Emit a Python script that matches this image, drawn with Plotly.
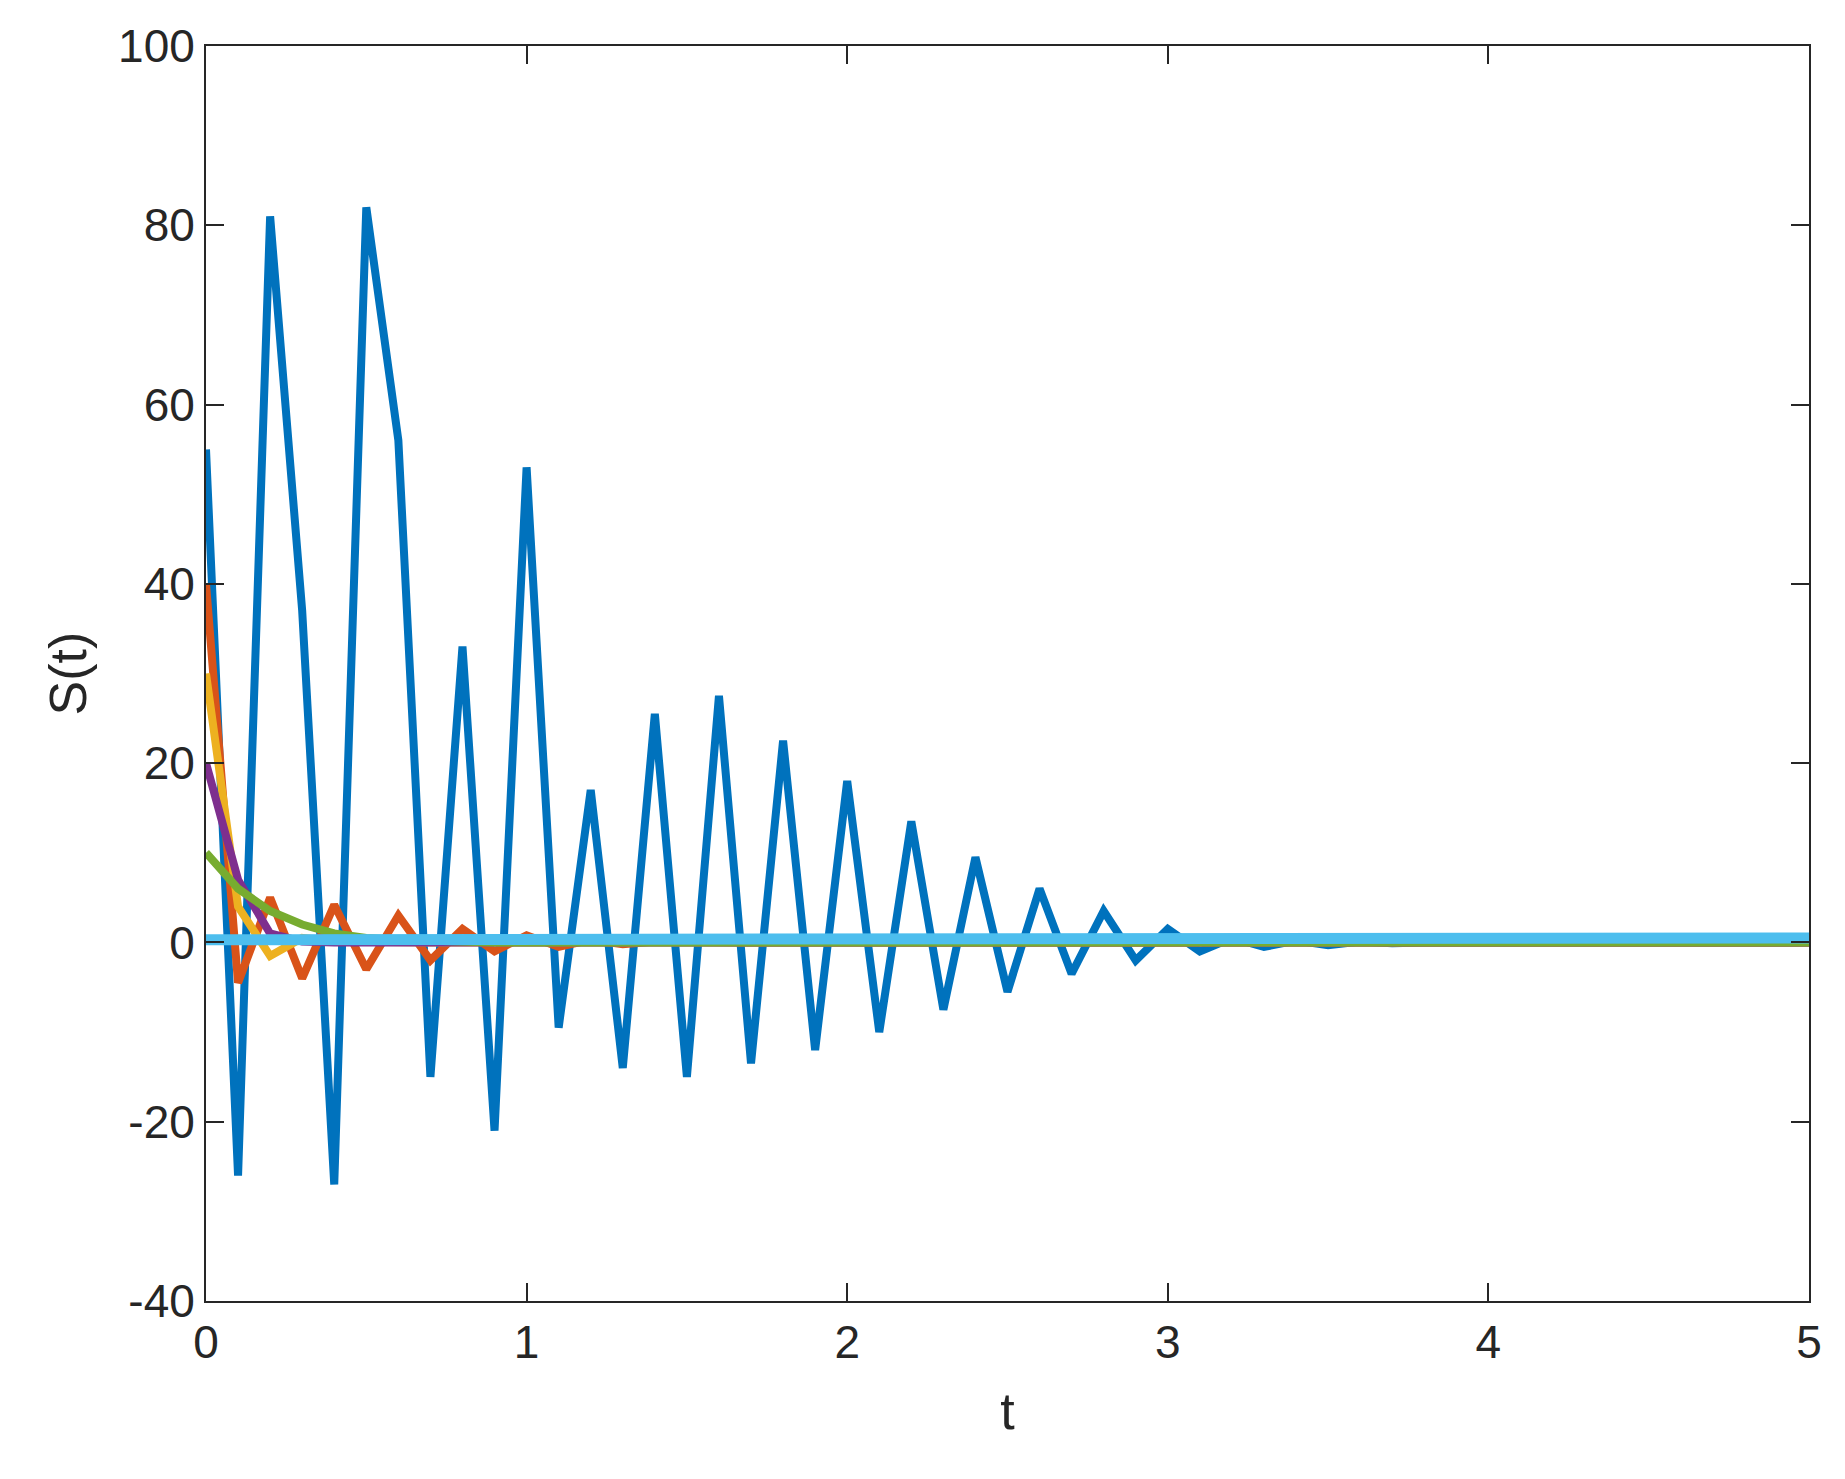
import plotly.graph_objects as go

t = [round(i * 0.1, 1) for i in range(51)]

blue_head = [55, -26, 81, 37, -27, 82, 56, -15, 33, -21, 53, -9.5, 17, -14, 25.5, -15, 27.5, -13.5, 22.5, -12, 18, -10, 13.5, -7.5, 9.5, -5.5, 6, -3.5, 3.5, -2, 1.5, -1, 0.5, -0.5, 0.2, -0.3, 0.1, -0.1]
orange_head = [40, -4.5, 5, -4, 4.2, -3, 3, -2, 1.5, -1, 0.8, -0.5, 0.3, -0.2, 0.1]
yellow_head = [30, 4, -1.5, 0.5, 0.1]
purple_head = [20, 7, 1, 0.1]
green_head = [10, 6, 3.5, 2, 1, 0.5, 0.3, 0.15, 0.05]
cyan_vals = [0.3] * 10 + [0.5] * 41

yticks = [-40, -20, 0, 20, 40, 60, 80, 100]
ylabels = ["-40", "-20", "0", "20", "40", "60", "80", "100"]

def pad(v):
    return v + [0.0] * (len(t) - len(v))

series = [
    (pad(blue_head), "#0072BD", 8),
    (pad(orange_head), "#D95319", 8),
    (pad(yellow_head), "#EDB120", 8),
    (pad(purple_head), "#7E2F8E", 8),
    (pad(green_head), "#77AC30", 8),
    (cyan_vals, "#4DBEEE", 11),
]

fig = go.Figure()
for y, c, w in series:
    fig.add_trace(go.Scatter(x=t, y=y, mode="lines", line=dict(color=c, width=w), showlegend=False))

axis = dict(showgrid=False, zeroline=False, showline=True, linecolor="#262626", linewidth=2,
            mirror="ticks", ticks="inside", ticklen=18, tickcolor="#262626", tickwidth=2,
            tickfont=dict(family="Liberation Sans, Arial", size=46, color="#262626"))
fig.update_xaxes(range=[0, 5], dtick=1, title=dict(text="t", font=dict(family="Liberation Sans", size=52, color="#262626"), standoff=25), **axis)
fig.update_yaxes(range=[-40, 100], tickvals=yticks, ticktext=ylabels,
                 title=dict(text="S(t)", font=dict(family="Liberation Sans", size=52, color="#262626"), standoff=15), **axis)
fig.update_layout(width=1845, height=1479, margin=dict(l=198, r=44, t=31, b=186),
                  plot_bgcolor="white", paper_bgcolor="white")
fig.write_html("out.html")
